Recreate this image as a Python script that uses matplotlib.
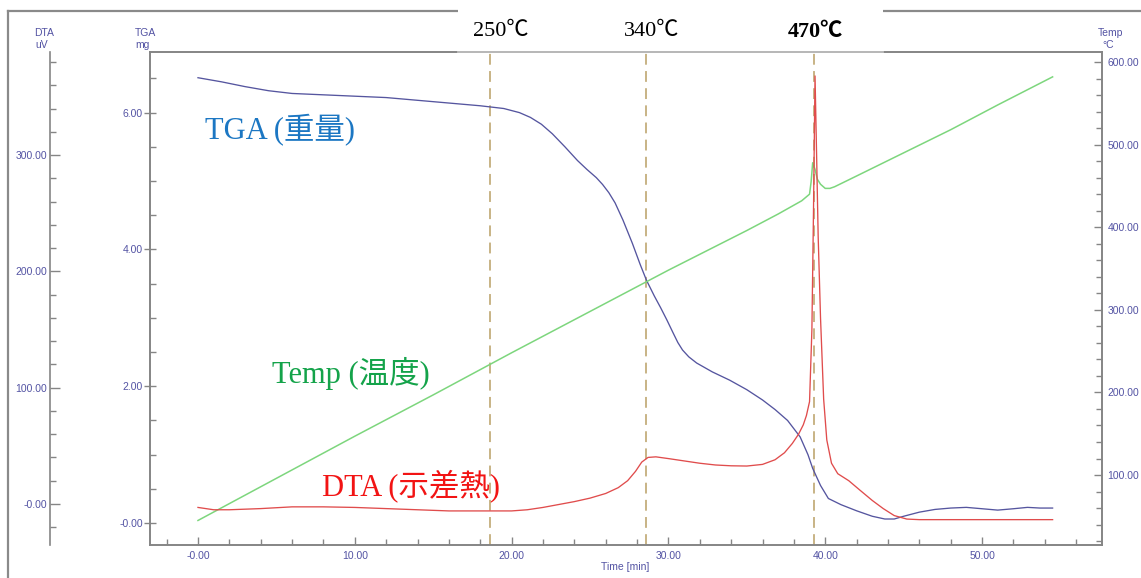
import matplotlib
matplotlib.use("Agg")
import matplotlib.pyplot as plt
from matplotlib.lines import Line2D
from matplotlib.patches import Rectangle
from matplotlib.ticker import FixedLocator, MultipleLocator

W, H = 1141, 578

# ---------------- measurement data ----------------
tga_time = [0.0, 1.5, 3.0, 4.5, 6.0, 8.0, 10.0, 12.0, 14.0, 16.0, 18.0, 19.5,
            20.5, 21.2, 21.9, 22.6, 23.4, 24.2, 24.8, 25.4, 25.8, 26.2, 26.6,
            27.1, 27.7, 28.2, 28.6, 29.1, 29.5, 29.9, 30.3, 30.6, 30.9, 31.3,
            31.8, 32.8, 33.9, 35.0, 36.0, 36.8, 37.6, 38.4, 38.9, 39.2, 39.7,
            40.2, 41.0, 42.0, 43.0, 43.8, 44.4, 45.0, 46.0, 47.0, 48.0, 49.0,
            50.0, 51.0, 52.0, 52.9, 53.7, 54.5]
tga_mg = [6.51, 6.45, 6.38, 6.32, 6.28, 6.26, 6.24, 6.22, 6.18, 6.14, 6.10, 6.06,
          6.00, 5.93, 5.83, 5.69, 5.50, 5.30, 5.17, 5.05, 4.95, 4.83, 4.68,
          4.43, 4.09, 3.78, 3.55, 3.32, 3.15, 2.97, 2.78, 2.64, 2.53, 2.43,
          2.34, 2.21, 2.09, 1.95, 1.80, 1.66, 1.50, 1.26, 1.00, 0.80, 0.55,
          0.36, 0.27, 0.18, 0.10, 0.06, 0.06, 0.10, 0.16, 0.20, 0.22, 0.23,
          0.21, 0.19, 0.21, 0.23, 0.22, 0.22]

dta_time = [0.0, 1.0, 2.0, 4.0, 6.0, 8.0, 10.0, 12.0, 14.0, 16.0, 18.0, 20.0,
            21.0, 22.0, 23.0, 24.0, 25.0, 26.0, 26.8, 27.4, 27.9, 28.3, 28.7,
            29.2, 30.0, 31.0, 32.0, 33.0, 34.0, 35.0, 36.0, 36.8, 37.4, 37.9,
            38.3, 38.6, 38.8, 39.0, 39.15, 39.25, 39.35, 39.45, 39.55, 39.7,
            39.9, 40.1, 40.4, 40.8, 41.5, 42.2, 43.0, 43.7, 44.4, 45.2, 46.0,
            50.0, 54.5]
dta_uv = [-3, -5, -5, -4, -2.5, -2.5, -3, -4, -5, -6, -6, -6,
          -5, -3, -0.5, 2, 5, 9, 14, 20, 28, 36, 40,
          40.5, 39, 37, 35, 33.5, 32.8, 32.6, 34, 38, 44, 52,
          60, 68, 76, 88, 150, 250, 368, 300, 230, 160,
          90, 55, 35, 26, 20, 12, 3, -4, -10, -13, -13.5,
          -13.5, -13.5]

temp_time = [0.0, 5.0, 10.0, 15.0, 20.0, 25.0, 30.0, 35.0, 37.0, 38.5, 39.0,
             39.1, 39.2, 39.35, 39.5, 39.7, 40.0, 40.3, 40.6, 42.0, 45.0, 48.0,
             51.0, 54.5]
temp_c = [45, 96, 147, 197, 248, 298, 348, 396, 416, 432, 440,
          455, 478, 470, 458, 452, 447, 447, 449, 462, 490, 518,
          548, 582]

event_times = [18.6, 28.6, 39.3]
event_labels = ["250℃", "340℃", "470℃"]

x_ticks = [0, 10, 20, 30, 40, 50]
x_tick_labels = ["-0.00", "10.00", "20.00", "30.00", "40.00", "50.00"]
tga_ticks = [0, 2, 4, 6]
tga_tick_labels = ["-0.00", "2.00", "4.00", "6.00"]
dta_ticks = [0, 100, 200, 300]
dta_tick_labels = ["-0.00", "100.00", "200.00", "300.00"]
temp_ticks = [100, 200, 300, 400, 500, 600]
temp_tick_labels = ["100.00", "200.00", "300.00", "400.00", "500.00", "600.00"]

# ---------------- styling ----------------
AXIS_GRAY = "#858585"
TICK_TEXT = "#5353a3"
TICK_FONT = ["Liberation Sans", "DejaVu Sans"]
SERIF_CJK = ["Liberation Serif", "Noto Sans CJK JP", "DejaVu Sans"]


def fx(px):
    return px / W


def fy(py):
    return 1 - py / H


fig = plt.figure(figsize=(W / 100, H / 100), dpi=100)
fig.patch.set_facecolor("white")

L, R, T, B = 150, 1102, 52, 545
ax = fig.add_axes([fx(L), fy(B), (R - L) / W, (B - T) / H])
ax.set_xlim(-3.06, 57.65)
ax.set_ylim(-0.32, 6.886)

ax_t = ax.twinx()
ax_t.set_ylim(15.3, 612.1)

ax_d = ax.twinx()
ax_d.set_ylim(-35.3, 388.6)

# curves
ax.plot(tga_time, tga_mg, color="#55559f", lw=0.95, zorder=3)
ax_t.plot(temp_time, temp_c, color="#7dd67d", lw=1.1, zorder=3)
ax_d.plot(dta_time, dta_uv, color="#e04c4c", lw=0.95, zorder=3)

# event markers
for t in event_times:
    ax.axvline(t, color="#c4ae7c", lw=1.3, dashes=(6, 3.5), zorder=2)

# spines
for a in (ax, ax_t, ax_d):
    for s in a.spines.values():
        s.set_color(AXIS_GRAY)
        s.set_linewidth(1.2)

for s in ("right", "top", "bottom"):
    ax_d.spines[s].set_visible(False)
ax_d.spines["left"].set_visible(True)
ax_d.spines["left"].set_position(("outward", 72))
ax_d.yaxis.set_ticks_position("left")
ax_d.yaxis.set_label_position("left")

# x axis
ax.xaxis.set_major_locator(FixedLocator(x_ticks))
ax.set_xticklabels(x_tick_labels)
ax.xaxis.set_minor_locator(MultipleLocator(2))
ax.tick_params(axis="x", which="major", direction="in", length=6, width=1,
               color=AXIS_GRAY, pad=4)
ax.tick_params(axis="x", which="minor", direction="in", length=4, width=1,
               color=AXIS_GRAY)

# TGA axis
ax.yaxis.set_major_locator(FixedLocator(tga_ticks))
ax.set_yticklabels(tga_tick_labels)
ax.yaxis.set_minor_locator(MultipleLocator(0.5))
ax.tick_params(axis="y", which="major", direction="inout", length=8, width=1,
               color=AXIS_GRAY, pad=1)
ax.tick_params(axis="y", which="minor", direction="in", length=4, width=1,
               color=AXIS_GRAY)

# Temp axis
ax_t.yaxis.set_major_locator(FixedLocator(temp_ticks))
ax_t.set_yticklabels(temp_tick_labels)
ax_t.yaxis.set_minor_locator(MultipleLocator(20))
ax_t.tick_params(axis="y", which="major", direction="in", length=6, width=1,
                 color=AXIS_GRAY, pad=4)
ax_t.tick_params(axis="y", which="minor", direction="in", length=4, width=1,
                 color=AXIS_GRAY)

# DTA axis
ax_d.yaxis.set_major_locator(FixedLocator(dta_ticks))
ax_d.set_yticklabels(dta_tick_labels)
ax_d.yaxis.set_minor_locator(MultipleLocator(20))
ax_d.tick_params(axis="y", which="major", direction="in", length=7, width=1,
                 color=AXIS_GRAY, pad=2)
ax_d.tick_params(axis="y", which="minor", direction="in", length=4, width=1,
                 color=AXIS_GRAY)

for a in (ax, ax_t, ax_d):
    for lab in a.get_xticklabels() + a.get_yticklabels():
        lab.set_color(TICK_TEXT)
        lab.set_fontsize(7.5)
        lab.set_family(TICK_FONT)

ax.set_xlabel("Time [min]", color=TICK_TEXT, fontsize=7.5, family=TICK_FONT)
ax.xaxis.label.set_va("center")
ax.xaxis.set_label_coords((625 - L) / (R - L), -(567 - B) / (B - T),
                          transform=ax.transAxes)

# axis headers
hdr = dict(color=TICK_TEXT, fontsize=7.5, family=TICK_FONT, ha="center",
           va="center")
fig.text(fx(44), fy(33), "DTA", **hdr)
fig.text(fx(42), fy(45), "uV", **hdr)
fig.text(fx(145), fy(33), "TGA", **hdr)
fig.text(fx(142), fy(45), "mg", **hdr)
fig.text(fx(1111), fy(33), "Temp", **hdr)
fig.text(fx(1108), fy(45), "°C", **hdr)

# frame around the chart
fig.add_artist(Line2D([fx(8), fx(8)], [0, fy(11)], color="#8a8a8a", lw=1.6,
                      zorder=1))
fig.add_artist(Line2D([fx(8), 1], [fy(11), fy(11)], color="#8a8a8a", lw=1.6,
                      zorder=1))

# banner holding the event temperatures
fig.add_artist(Rectangle((fx(458), fy(51)), fx(883 - 458), (51 - 8) / H,
                         facecolor="white", edgecolor="none", zorder=2))
fig.add_artist(Line2D([fx(458), fx(883)], [fy(52), fy(52)], color="white",
                      alpha=0.45, lw=1.3, zorder=2))
label_x = [501, 652, 815]
for lx, text, bold in zip(label_x, event_labels, [False, False, True]):
    fig.text(fx(lx), fy(32), text, fontsize=16, family=SERIF_CJK,
             ha="center", va="center", color="black",
             fontweight="bold" if bold else "normal", zorder=3)

# series captions
cap = dict(fontsize=22, family=SERIF_CJK, ha="left", va="center", zorder=3)
fig.text(fx(205), fy(130), "TGA (重量)", color="#1c77c3", **cap)
fig.text(fx(272), fy(373), "Temp (温度)", color="#14a34a", **cap)
fig.text(fx(322), fy(486), "DTA (示差熱)", color="#f21414", **cap)

fig.savefig("out.png", dpi=100, facecolor="white")
